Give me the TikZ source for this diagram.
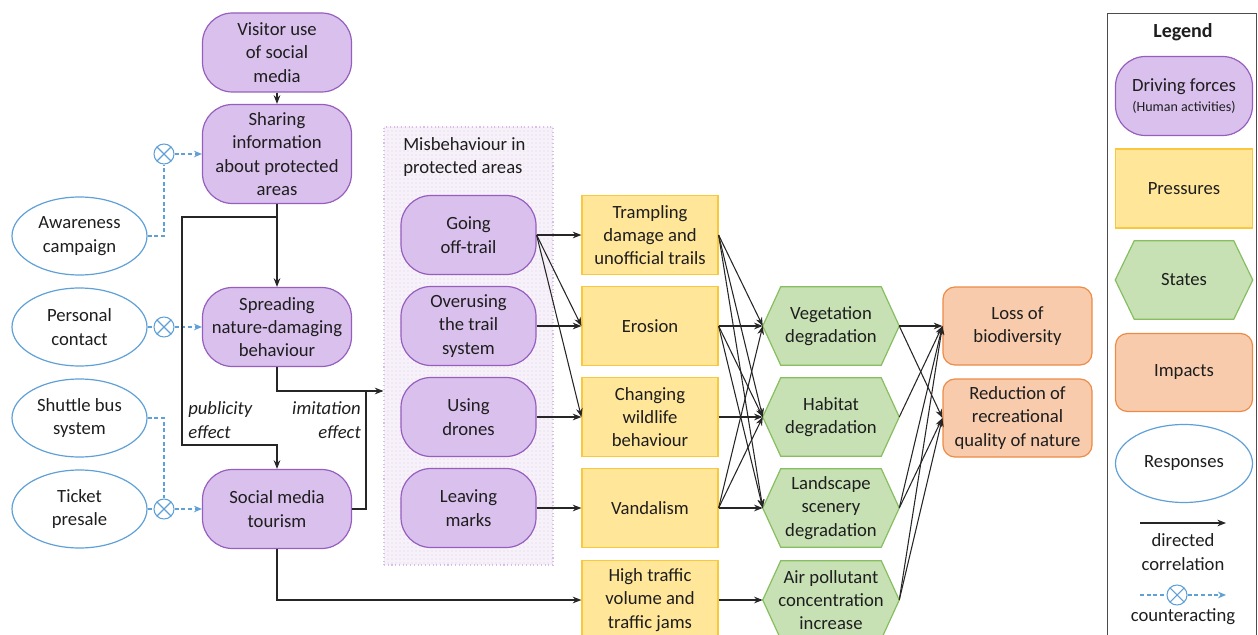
\documentclass[tikz,border=0pt]{standalone}
\usepackage{fontspec}
\setmainfont{Carlito}
\usetikzlibrary{arrows.meta,shapes.geometric,backgrounds,patterns}
\newlength\px \setlength\px{0.75pt}
\definecolor{purf}{RGB}{218,192,237}
\definecolor{purd}{RGB}{150,95,190}
\definecolor{yelf}{RGB}{255,230,153}
\definecolor{yeld}{RGB}{250,200,60}
\definecolor{grnf}{RGB}{199,225,181}
\definecolor{grnd}{RGB}{135,190,95}
\definecolor{oraf}{RGB}{248,203,173}
\definecolor{orad}{RGB}{237,140,70}
\definecolor{blu}{RGB}{95,160,215}
\definecolor{misf}{RGB}{247,242,250}
\definecolor{misd}{RGB}{215,190,232}
\definecolor{misp}{RGB}{222,200,236}
\definecolor{txt}{RGB}{30,30,30}
\newcommand\hexof[2][18]{\begin{scope}[on background layer]
\draw[draw=grnd, fill=grnf, line width=0.9pt] (#2.west) -- ([xshift=#1\px]#2.north west) -- ([xshift=-#1\px]#2.north east) -- (#2.east) -- ([xshift=-#1\px]#2.south east) -- ([xshift=#1\px]#2.south west) -- cycle;
\end{scope}}
\begin{document}
\begin{tikzpicture}[x=0.75pt,y=-0.75pt,
  font=\fontsize{14}{17.5}\selectfont, text=txt,
  drv/.style={draw=purd, fill=purf, line width=0.9pt, rounded corners=30\px, minimum width=149\px, minimum height=79\px, align=center, inner sep=0pt},
  beh/.style={drv, minimum width=135\px},
  press/.style={draw=yeld, fill=yelf, line width=0.9pt, minimum width=136\px, minimum height=79\px, align=center, inner sep=0pt},
  stt/.style={minimum width=136\px, minimum height=78\px, align=center, inner sep=0pt},
  imp/.style={draw=orad, fill=oraf, line width=0.9pt, rounded corners=12\px, minimum width=149\px, minimum height=78\px, align=center, inner sep=0pt},
  resp/.style={ellipse, draw=blu, line width=0.9pt, minimum width=135\px, minimum height=78\px, align=center, inner sep=0pt},
  arr/.style={-{Stealth[length=6.5pt,width=5pt]}, line width=0.8pt, draw=black!85},
  ln/.style={line width=0.8pt, draw=black!85},
  dsh/.style={draw=blu, line width=0.8pt, dash pattern=on 3pt off 2pt},
  dsharr/.style={dsh, -{Stealth[length=6pt,width=5pt]}},
  otm/.style={circle, draw=blu, line width=0.8pt, minimum size=20\px, inner sep=0pt,
    path picture={\draw[blu, line width=0.8pt] (path picture bounding box.south west) -- (path picture bounding box.north east) (path picture bounding box.north west) -- (path picture bounding box.south east);}},
]
\useasboundingbox (0,0) rectangle (1258,635);

% misbehaviour group box
\node[draw=misd, dotted, line width=0.8pt, fill=misf, minimum width=169\px, minimum height=438\px, inner sep=0pt,
  postaction={pattern=dots, pattern color=misp}] (mis) at (468.5,346) {};
\node[anchor=north west, align=left, inner sep=0pt] (mist) at (403,137) {Misbehaviour in\\protected areas};

% driving forces
\node[drv, minimum height=79\px] (vis) at (277,52.5) {Visitor use\\of social\\media};
\node[drv, minimum height=99\px] (share) at (277,154) {Sharing\\information\\about protected\\areas};
\node[drv] (spread) at (277,327) {Spreading\\nature-damaging\\behaviour};
\node[drv] (smt) at (277,509) {Social media\\tourism};

% responses
\node[resp] (aw) at (79.5,236) {Awareness\\campaign};
\node[resp] (pc) at (79.5,327) {Personal\\contact};
\node[resp] (sb) at (79.5,418) {Shuttle bus\\system};
\node[resp] (tp) at (79.5,509) {Ticket\\presale};

\node[otm] (o1) at (164,154) {};
\node[otm] (o2) at (164,327) {};
\node[otm] (o3) at (164,509) {};

\draw[dsh] (aw.east) -| (o1.south);
\draw[dsharr] (o1.east) -- (share.west);
\draw[dsh] (pc.east) -- (o2.west);
\draw[dsharr] (o2.east) -- (spread.west);
\draw[dsh] (sb.east) -| (o3.north);
\draw[dsh] (tp.east) -- (o3.west);
\draw[dsharr] (o3.east) -- (smt.west);

% behaviours
\node[beh] (b1) at (468.5,235) {Going\\off-trail};
\node[beh] (b2) at (468.5,326) {Overusing\\the trail\\system};
\node[beh] (b3) at (468.5,417) {Using\\drones};
\node[beh] (b4) at (468.5,508) {Leaving\\marks};

% pressures
\node[press] (p1) at (650,235) {Trampling\\damage and\\unofficial trails};
\node[press] (p2) at (650,326) {Erosion};
\node[press] (p3) at (650,417) {Changing\\wildlife\\behaviour};
\node[press] (p4) at (650,508) {Vandalism};
\node[press] (p5) at (650,600) {High traffic\\volume and\\traffic jams};

% states
\node[stt] (s1) at (831,326) {Vegetation\\degradation}; \hexof{s1}
\node[stt] (s2) at (831,417) {Habitat\\degradation}; \hexof{s2}
\node[stt] (s3) at (831,508) {Landscape\\scenery\\degradation}; \hexof{s3}
\node[stt] (s4) at (831,600) {Air pollutant\\concentration\\increase}; \hexof{s4}

% impacts
\node[imp] (i1) at (1017.5,326) {Loss of\\biodiversity};
\node[imp] (i2) at (1017.5,418) {Reduction of\\recreational\\quality of nature};

% driving connectors
\draw[arr] (vis) -- (share);
\draw[arr] (share) -- (spread);
\coordinate (j1) at (277,217);
\coordinate (j2) at (182,217);
\coordinate (j3) at (182,445);
\coordinate (j4) at (277,445);
\draw[arr] (j1) -- (j2) -- (j3) -- (j4) -- (smt.north);
\coordinate (im) at (366,391);
\draw[arr] (spread.south) |- (mis.west |- im);
\draw[ln] (smt.east) -| (im);
\draw[arr] (smt.south) |- (p5.west);
\node[anchor=west, align=left, inner sep=0pt, font=\fontsize{14}{17.5}\selectfont\itshape] (pub) at (188,420) {publicity\\effect};
\node[anchor=east, align=right, inner sep=0pt, font=\fontsize{14}{17.5}\selectfont\itshape] (imi) at (361,420) {imitation\\effect};

% behaviours -> pressures
\draw[arr] (b1.east) -- (p1.west);
\draw[arr] (b1.east) -- (p2.west);
\draw[arr] (b1.east) -- (p3.west);
\draw[arr] (b2.east) -- (p2.west);
\draw[arr] (b3.east) -- (p3.west);
\draw[arr] (b4.east) -- (p4.west);

% pressures -> states
\foreach \a/\b in {p1/s1,p1/s2,p1/s3,p2/s1,p2/s2,p2/s3,p3/s2,p4/s1,p4/s2,p4/s3,p5/s4}
  \draw[arr] (\a.east) -- (\b.west);

% states -> impacts
\foreach \a/\b in {s1/i1,s1/i2,s2/i1,s3/i1,s3/i2,s4/i1,s4/i2}
  \draw[arr] (\a.east) -- (\b.west);

% legend
\node[draw=black!70, line width=0.9pt, minimum width=149\px, minimum height=640\px, anchor=north west, inner sep=0pt] (legbox) at (1107,13) {};
\node[font=\fontsize{15}{18}\selectfont\bfseries] (legt) at (1183,32) {Legend};
\node[drv, minimum width=137\px] (ld) at (1184,96) {Driving forces\\[-3pt]{\fontsize{10.5}{12}\selectfont (Human activities)}};
\node[press, minimum width=137\px] (lp) at (1184,188.5) {Pressures};
\node[stt, minimum width=137\px] (ls) at (1184,280) {States}; \hexof[19]{ls}
\node[imp, minimum width=137\px] (li) at (1184,372.5) {Impacts};
\node[resp, minimum width=137\px] (lr) at (1184,463.5) {Responses};
\coordinate (la1) at (1140,523);
\coordinate (la2) at (1226,523);
\draw[arr] (la1) -- (la2);
\node[align=center, inner sep=0pt] (ldc) at (1183,552) {directed\\correlation};
\node[otm] (lo) at (1177,595) {};
\coordinate (lc1) at (1140,595);
\coordinate (lc2) at (1226,595);
\draw[dsh] (lc1) -- (lo.west);
\draw[dsharr] (lo.east) -- (lc2);
\node[inner sep=0pt] (lct) at (1183,617) {counteracting};
\end{tikzpicture}
\end{document}
